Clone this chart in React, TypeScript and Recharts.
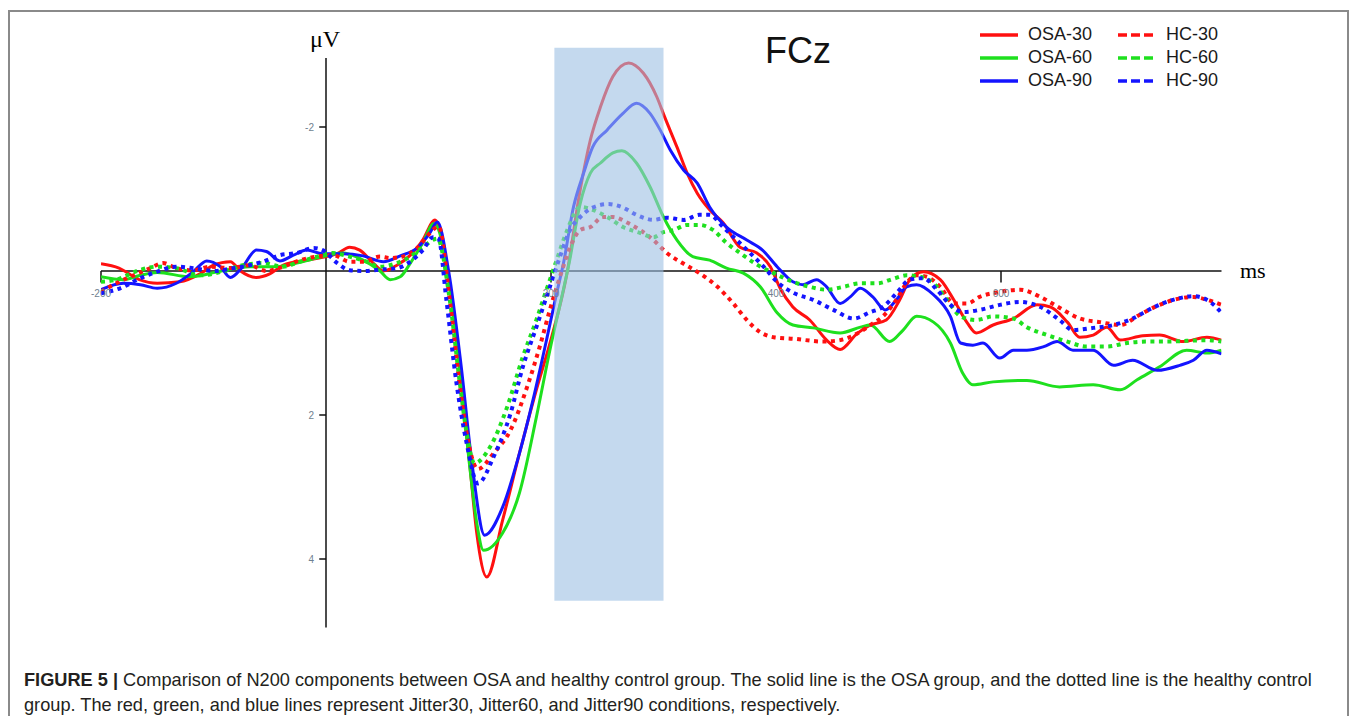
import React from 'react';
import {
  LineChart,
  Line,
  XAxis,
  YAxis,
  ReferenceLine,
  ReferenceArea,
  ReferenceDot
} from 'recharts';

// [ms, µV] pairs (negative is plotted upward)
const osa30 = [
  [-200, -0.1], [-184, -0.04], [-166, 0.12], [-150, 0.17], [-130, 0.15], [-112, 0.04], [-100, -0.08],
  [-85, -0.13], [-76, 0], [-62, 0.09], [-50, 0.04], [-38, -0.08], [-17, -0.15], [-3, -0.19], [10, -0.24],
  [21, -0.33], [30, -0.29], [42, -0.11], [51, 0], [63, -0.08], [75, -0.22], [86, -0.43], [97, -0.71],
  [108, 0], [119, 1.33], [128, 2.72], [134, 3.64], [143, 4.25], [157, 3.46], [172, 2.53], [187, 1.65],
  [200, 0.95], [214, 0.05], [226, -1.13], [235, -1.82], [244, -2.28], [255, -2.7], [269, -2.89],
  [282, -2.75], [294, -2.42], [301, -2.14], [312, -1.72], [321, -1.36], [330, -1.08], [341, -0.85],
  [353, -0.67], [368, -0.33], [383, -0.25], [395, -0.06], [404, 0.25], [415, 0.5], [430, 0.68],
  [445, 0.96], [457, 1.09], [472, 0.87], [484, 0.75], [498, 0.68], [510, 0.4], [519, 0.12], [531, 0.01],
  [546, 0.12], [558, 0.4], [570, 0.72], [578, 0.86], [593, 0.75], [611, 0.66], [632, 0.47], [644, 0.5],
  [659, 0.71], [670, 0.92], [682, 0.89], [694, 0.78], [706, 0.96], [726, 0.9], [741, 0.89], [762, 0.98],
  [783, 0.92], [796, 0.96]
];

const osa60 = [
  [-200, 0.08], [-180, 0.12], [-165, 0.06], [-150, 0.02], [-121, 0.08], [-93, 0], [-68, -0.06],
  [-46, -0.06], [-26, -0.11], [-3, -0.2], [15, -0.25], [33, -0.15], [48, 0], [57, 0.12], [66, 0.08],
  [75, -0.11], [86, -0.39], [96, -0.66], [108, 0], [119, 1.4], [128, 2.75], [134, 3.5], [140, 3.88],
  [157, 3.64], [172, 3.08], [187, 2.03], [199, 1.1], [211, 0.26], [216, -0.1], [226, -0.94], [235, -1.36],
  [244, -1.5], [255, -1.64], [263, -1.67], [276, -1.5], [288, -1.17], [300, -0.75], [312, -0.43],
  [326, -0.2], [341, -0.15], [356, -0.04], [371, 0.03], [386, 0.22], [401, 0.58], [415, 0.75], [433, 0.79],
  [457, 0.86], [475, 0.78], [484, 0.75], [501, 0.98], [513, 0.82], [525, 0.63], [540, 0.71], [555, 1.0],
  [566, 1.42], [575, 1.58], [593, 1.54], [623, 1.52], [652, 1.61], [682, 1.58], [706, 1.65], [721, 1.51],
  [741, 1.33], [765, 1.1], [783, 1.14], [796, 1.1]
];

const osa90 = [
  [-200, 0.26], [-180, 0.17], [-165, 0.19], [-150, 0.24], [-133, 0.17], [-118, 0.01], [-106, -0.14],
  [-94, -0.06], [-85, 0.09], [-74, -0.06], [-62, -0.29], [-53, -0.27], [-41, -0.14], [-29, -0.22],
  [-17, -0.29], [-3, -0.24], [15, -0.24], [33, -0.21], [51, -0.13], [66, -0.21], [81, -0.32], [92, -0.52],
  [99, -0.68], [109, 0], [120, 1.3], [130, 2.7], [141, 3.67], [157, 3.28], [172, 2.53], [184, 1.79],
  [196, 0.96], [205, 0.31], [211, -0.1], [220, -0.89], [229, -1.36], [237, -1.72], [250, -1.96],
  [264, -2.19], [276, -2.33], [288, -2.19], [297, -1.96], [306, -1.68], [318, -1.4], [330, -1.22],
  [341, -0.89], [356, -0.61], [374, -0.43], [388, -0.29], [401, -0.06], [415, 0.15], [424, 0.19],
  [436, 0.12], [445, 0.22], [457, 0.45], [466, 0.36], [475, 0.24], [486, 0.36], [497, 0.54], [507, 0.4],
  [516, 0.22], [525, 0.19], [540, 0.33], [555, 0.63], [564, 1.0], [575, 1.03], [584, 1.0], [599, 1.21],
  [611, 1.1], [623, 1.1], [638, 1.05], [650, 0.98], [664, 1.1], [682, 1.1], [700, 1.31], [717, 1.24],
  [739, 1.38], [759, 1.31], [771, 1.24], [783, 1.1], [796, 1.15]
];

const hc30 = [
  [-200, 0.29], [-189, 0.19], [-171, 0.06], [-156, -0.04], [-145, -0.11], [-133, -0.04], [-118, -0.01],
  [-103, -0.06], [-85, -0.04], [-68, -0.08], [-53, 0], [-38, -0.06], [-23, -0.15], [-8, -0.2], [6, -0.22],
  [21, -0.13], [33, -0.13], [48, -0.2], [57, -0.18], [68, -0.2], [81, -0.32], [92, -0.52], [100, -0.62],
  [110, 0.4], [119, 1.6], [125, 2.25], [135, 2.75], [149, 2.53], [164, 2.21], [179, 1.6], [190, 1.05],
  [199, 0.54], [208, 0.08], [217, -0.33], [226, -0.57], [235, -0.61], [246, -0.75], [255, -0.75],
  [268, -0.67], [279, -0.57], [291, -0.43], [303, -0.25], [318, -0.1], [332, 0.03], [348, 0.22],
  [362, 0.45], [374, 0.68], [386, 0.85], [398, 0.92], [415, 0.94], [442, 0.98], [457, 0.96], [472, 0.87],
  [484, 0.75], [495, 0.63], [507, 0.4], [516, 0.17], [525, 0.06], [534, 0.08], [546, 0.22], [558, 0.45],
  [570, 0.45], [581, 0.36], [599, 0.29], [617, 0.26], [635, 0.36], [652, 0.51], [670, 0.66], [688, 0.71],
  [706, 0.75], [723, 0.61], [741, 0.47], [759, 0.38], [771, 0.36], [783, 0.4], [796, 0.47]
];

const hc60 = [
  [-200, 0.15], [-186, 0.12], [-168, 0], [-150, -0.06], [-133, -0.04], [-112, 0.06], [-93, 0.01],
  [-74, -0.08], [-56, -0.11], [-38, -0.06], [-23, -0.13], [-8, -0.2], [6, -0.25], [21, -0.2], [36, -0.13],
  [48, -0.06], [63, -0.11], [75, -0.2], [86, -0.33], [99, -0.45], [110, 0.4], [119, 1.56], [125, 2.25],
  [132, 2.67], [146, 2.44], [161, 1.89], [175, 1.19], [187, 0.68], [196, 0.26], [205, -0.15], [214, -0.55],
  [226, -0.89], [237, -0.85], [250, -0.75], [264, -0.61], [279, -0.53], [291, -0.47], [300, -0.54],
  [309, -0.57], [321, -0.64], [332, -0.64], [344, -0.57], [356, -0.39], [368, -0.25], [383, -0.09],
  [398, 0.03], [415, 0.15], [430, 0.22], [445, 0.26], [460, 0.22], [475, 0.17], [490, 0.17], [504, 0.11],
  [516, 0.06], [528, 0.08], [540, 0.17], [552, 0.4], [564, 0.63], [578, 0.68], [593, 0.63], [611, 0.66],
  [623, 0.78], [641, 0.89], [659, 0.98], [676, 1.05], [694, 1.05], [712, 1.0], [730, 0.98], [747, 0.98],
  [765, 0.97], [783, 0.96], [796, 0.98]
];

const hc90 = [
  [-200, 0.31], [-183, 0.24], [-165, 0.1], [-150, 0.01], [-133, -0.06], [-118, -0.04], [-100, 0],
  [-82, -0.04], [-68, -0.08], [-56, -0.13], [-41, -0.22], [-26, -0.25], [-11, -0.32], [-3, -0.29],
  [10, -0.11], [21, -0.01], [33, 0], [48, -0.02], [63, -0.04], [75, -0.13], [86, -0.29], [95, -0.47],
  [100, -0.45], [107, 0.4], [116, 1.56], [125, 2.39], [135, 2.95], [149, 2.58], [164, 1.98], [175, 1.33],
  [187, 0.78], [199, 0.22], [208, -0.2], [217, -0.57], [226, -0.75], [237, -0.88], [251, -0.93],
  [264, -0.88], [276, -0.78], [291, -0.71], [303, -0.74], [318, -0.71], [332, -0.78], [341, -0.78],
  [353, -0.61], [365, -0.43], [377, -0.25], [389, -0.06], [401, 0.15], [415, 0.3], [433, 0.4], [451, 0.54],
  [469, 0.66], [484, 0.57], [495, 0.5], [507, 0.31], [519, 0.12], [531, 0.1], [543, 0.26], [555, 0.47],
  [566, 0.57], [581, 0.54], [599, 0.47], [617, 0.43], [635, 0.5], [652, 0.68], [664, 0.82], [682, 0.79],
  [700, 0.75], [717, 0.66], [735, 0.51], [753, 0.4], [771, 0.35], [786, 0.43], [796, 0.58]
];

const xTicks = [-200, 200, 400, 600];
const yTicks = [-2, 2, 4];

const RED = '#ff1010';
const GREEN = '#1ee01e';
const BLUE = '#1414ff';

const seriesList = [
  { name: 'OSA-30', points: osa30, color: RED, dashed: false },
  { name: 'OSA-60', points: osa60, color: GREEN, dashed: false },
  { name: 'OSA-90', points: osa90, color: BLUE, dashed: false },
  { name: 'HC-30', points: hc30, color: RED, dashed: true },
  { name: 'HC-60', points: hc60, color: GREEN, dashed: true },
  { name: 'HC-90', points: hc90, color: BLUE, dashed: true }
];

const toRows = (pts: number[][]) => pts.map(([t, v]) => ({ t, v }));

function LegendBox() {
  const cell = (s: typeof seriesList[number]) => (
    <div key={s.name} style={{ display: 'flex', alignItems: 'center', height: 23 }}>
      <svg width={38} height={8} style={{ marginRight: 10 }}>
        <line
          x1={0}
          y1={4}
          x2={38}
          y2={4}
          stroke={s.color}
          strokeWidth={3.5}
          strokeDasharray={s.dashed ? '9 4' : undefined}
        />
      </svg>
      <span>{s.name}</span>
    </div>
  );
  return (
    <div
      style={{
        position: 'absolute',
        left: 972,
        top: 15,
        display: 'grid',
        gridTemplateColumns: '138px 120px',
        gridAutoFlow: 'column',
        gridTemplateRows: 'repeat(3, 23px)',
        fontFamily: '"Liberation Sans", Arial, sans-serif',
        fontSize: 18,
        color: '#1a1a1a'
      }}
    >
      {seriesList.map(cell)}
    </div>
  );
}

export default function App() {
  return (
    <div style={{ position: 'relative', width: 1342, height: 709, fontFamily: '"Liberation Sans", Arial, sans-serif' }}>
      <div
        style={{
          position: 'absolute',
          left: 0,
          top: 2,
          width: 1341,
          height: 706,
          borderTop: '2px solid #8a8a8a',
          borderLeft: '2px solid #8a8a8a',
          borderRight: '2px solid #8a8a8a',
          boxSizing: 'border-box'
        }}
      />

      <div style={{ position: 'absolute', left: 0, top: 0 }}>
        <LineChart width={1342} height={700} margin={{ top: 47, right: 128.5, bottom: 77, left: 93 }}>
          <XAxis type="number" dataKey="t" domain={[-200, 796]} hide allowDataOverflow />
          <YAxis type="number" dataKey="v" domain={[-3, 5]} reversed hide allowDataOverflow />

          <ReferenceLine y={0} stroke="#111" strokeWidth={1.5} />
          <ReferenceLine
            segment={[{ x: 0, y: -2.96 }, { x: 0, y: 4.95 }]}
            stroke="#111"
            strokeWidth={1.5}
          />
          {xTicks.map(t => (
            <ReferenceLine
              key={`xt${t}`}
              segment={[{ x: t, y: 0 }, { x: t, y: 0.16 }]}
              stroke="#111"
              strokeWidth={1.5}
            />
          ))}
          {yTicks.map(v => (
            <ReferenceLine
              key={`yt${v}`}
              segment={[{ x: -6, y: v }, { x: 0, y: v }]}
              stroke="#111"
              strokeWidth={1.5}
            />
          ))}
          {xTicks.map(t => (
            <ReferenceDot
              key={`xl${t}`}
              x={t}
              y={0}
              r={0}
              fill="none"
              stroke="none"
              label={{ value: String(t), position: 'bottom', offset: 19, fontSize: 10, fill: '#6f7f90' }}
            />
          ))}
          {yTicks.map(v => (
            <ReferenceDot
              key={`yl${v}`}
              x={0}
              y={v}
              r={0}
              fill="none"
              stroke="none"
              label={{ value: String(v), position: 'left', offset: 12, fontSize: 10, fill: '#6f7f90' }}
            />
          ))}

          {seriesList.map(s => (
            <Line
              key={s.name}
              data={toRows(s.points)}
              dataKey="v"
              name={s.name}
              type="monotone"
              stroke={s.color}
              strokeWidth={s.dashed ? 4 : 3}
              strokeDasharray={s.dashed ? '4 4.5' : undefined}
              dot={false}
              activeDot={false}
              isAnimationActive={false}
            />
          ))}

          <ReferenceArea
            x1={203}
            x2={300}
            y1={-3.1}
            y2={4.58}
            ifOverflow="visible"
            fill="#9dc0e3"
            fillOpacity={0.6}
            stroke="none"
            zIndex={450}
          />
        </LineChart>
      </div>

      <div style={{ position: 'absolute', left: 302, top: 18, fontFamily: '"Liberation Serif", "Times New Roman", serif', fontSize: 24 }}>
        μV
      </div>
      <div style={{ position: 'absolute', left: 1232, top: 250, fontFamily: '"Liberation Serif", "Times New Roman", serif', fontSize: 22 }}>
        ms
      </div>
      <div style={{ position: 'absolute', left: 757, top: 22, fontSize: 36, color: '#111' }}>FCz</div>

      <LegendBox />

      <div
        style={{
          position: 'absolute',
          left: 16,
          top: 660,
          width: 1320,
          fontSize: 18.2,
          lineHeight: '25px',
          color: '#231f20',
          whiteSpace: 'nowrap'
        }}
      >
        <b>FIGURE 5 |</b> Comparison of N200 components between OSA and healthy control group. The solid line is the OSA group, and the dotted line is the healthy control
        <br />
        group. The red, green, and blue lines represent Jitter30, Jitter60, and Jitter90 conditions, respectively.
      </div>
    </div>
  );
}
